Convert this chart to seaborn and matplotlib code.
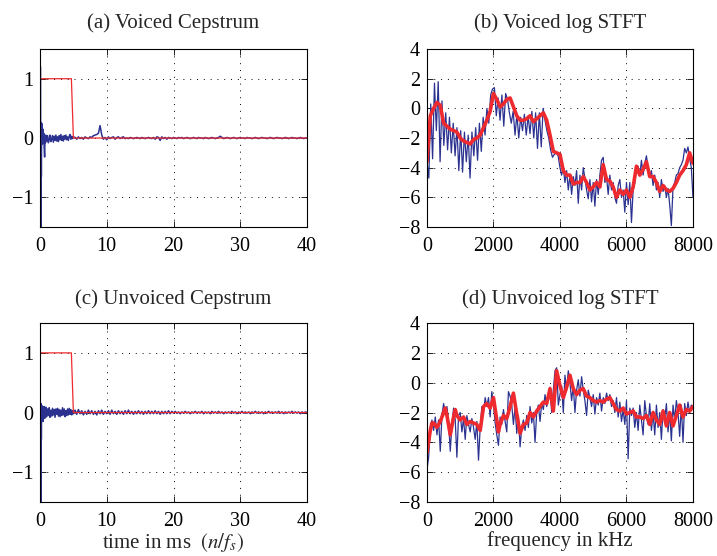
import numpy as np
import seaborn as sns
import matplotlib
matplotlib.use("Agg")
import matplotlib.pyplot as plt

sns.set_style("ticks")
plt.rcParams["font.family"] = ["Liberation Serif", "DejaVu Serif"]
plt.rcParams["mathtext.fontset"] = "stix"

BLUE = "#2b3290"
RED = "#ee2a2e"

# -------------------------------
# CEPSTRUM DATA (time in ms)
# -------------------------------
lifter_t = [0.0, 4.7, 5.0, 40.0]
lifter_v = [1.0, 1.0, 0.0, 0.0]

voiced_head_t = [0.08, 0.12, 0.16, 0.2, 0.25, 0.31, 0.38, 0.44, 0.5, 0.56, 0.62, 0.69, 0.75, 0.81, 0.88, 0.94]
voiced_head_v = [1.2, -2.0, 0.25, -0.65, 0.25, 0.12, -0.1, 0.15, -0.05, 0.08, -0.15, -0.32, 0.02, -0.08, 0.05, -0.04]
# 1.0 .. 5.0 ms
voiced_mid = [-0.05, 0.04, -0.08, -0.03, 0.05, -0.06, -0.02, 0.04, -0.07, 0.03,
              -0.04, 0.05, -0.05, 0.02, -0.06, 0.04, -0.03, 0.06, -0.04, 0.03,
              -0.05, 0.04, -0.02, 0.05, -0.03, 0.02, -0.04, 0.03, 0.06, -0.02,
              0.03, -0.01, 0.02]
# 5.25 .. 40 ms
voiced_tail = [0.01, -0.02, 0.02, -0.01, 0.01, -0.02, 0.02, 0.0, -0.01, 0.02, 0.01, 0.04,
               0.05, 0.06, 0.08, 0.21, 0.05, -0.02, 0.01, -0.03,
               0.02, -0.01, 0.01, 0.02, -0.02, 0.01, 0.02, -0.01, 0.01, 0.02, -0.01, 0.0,
               -0.01, 0.01, 0.0, -0.01, 0.0, 0.01, 0.0, -0.01, 0.01, 0.0, -0.01, 0.0, 0.01, 0.0, -0.01, 0.01,
               -0.02, 0.02, 0.01, -0.04, 0.02, -0.01, 0.01, -0.02, 0.01, 0.0, -0.01, 0.01,
               0.0, -0.01, 0.01, 0.0, 0.01, -0.01, 0.0, 0.01, 0.0, -0.01, 0.0, 0.01, 0.0, -0.01,
               0.01, 0.0, 0.0, -0.01, 0.01, 0.0, -0.01, 0.0, 0.01, 0.0, -0.01, 0.0, 0.01, 0.03,
               0.01, -0.01, 0.0, 0.01, 0.0, -0.01, 0.0, 0.01, 0.0, -0.01, 0.0, 0.01, 0.0, 0.0,
               -0.01, 0.01, 0.0, 0.0, -0.01, 0.0, 0.01, 0.0, -0.01, 0.0, 0.01, 0.0, 0.0, -0.01,
               0.0, 0.01, 0.0, -0.01, 0.0, 0.01, 0.0, 0.0, -0.01, 0.0, 0.01, 0.0, -0.01, 0.0,
               0.01, 0.0, 0.0, -0.01, 0.0, 0.01, 0.0, -0.01, 0.0, 0.0]

unvoiced_head_t = [0.08, 0.12, 0.16, 0.2, 0.25, 0.31, 0.38, 0.44, 0.5, 0.56, 0.62, 0.69, 0.75, 0.81, 0.88, 0.94]
unvoiced_head_v = [0.12, -2.0, 0.15, -0.45, 0.12, -0.12, 0.1, -0.15, 0.08, -0.05, 0.1, -0.1, 0.05, -0.08, 0.09, -0.06]
unvoiced_mid = [-0.07, 0.06, -0.05, 0.08, -0.08, 0.04, -0.06, 0.07, -0.04, 0.05,
                -0.08, 0.06, -0.03, 0.07, -0.06, 0.05, -0.07, 0.04, -0.05, 0.08,
                -0.04, 0.06, -0.07, 0.03, -0.05, 0.06, -0.04, 0.07, -0.03, 0.05,
                -0.04, 0.03, -0.02]
unvoiced_tail = [0.04, -0.03, 0.05, -0.02, 0.03, -0.04, 0.02, -0.03, 0.04, -0.02,
                 0.03, -0.03, 0.02, -0.04, 0.03, -0.02, 0.04, -0.03, 0.02, -0.02,
                 0.03, -0.03, 0.04, -0.02, 0.02, -0.03, 0.03, -0.02, 0.02, -0.03,
                 0.03, -0.02, 0.04, -0.02, 0.02, -0.03, 0.02, -0.02, 0.03, -0.02,
                 0.02, -0.03, 0.02, -0.02, 0.03, -0.02, 0.02, -0.02, 0.03, -0.02,
                 0.02, -0.03, 0.02, -0.02, 0.02, -0.02, 0.03, -0.02, 0.02, -0.01,
                 0.02, -0.01, 0.01, -0.02, 0.01, -0.01, 0.02, -0.01, 0.01, -0.02,
                 0.01, -0.01, 0.02, -0.01, 0.01, -0.01, 0.02, -0.02, 0.01, -0.01,
                 0.01, -0.02, 0.02, -0.01, 0.01, -0.01, 0.02, -0.01, 0.01, -0.02,
                 0.01, -0.01, 0.01, -0.01, 0.02, -0.01, 0.01, -0.02, 0.01, -0.01,
                 0.02, -0.01, 0.01, -0.01, 0.01, -0.02, 0.01, -0.01, 0.02, -0.01,
                 0.01, -0.01, 0.01, -0.02, 0.01, -0.01, 0.02, -0.01, 0.01, -0.01,
                 0.01, -0.01, 0.02, -0.01, 0.01, -0.02, 0.01, -0.01, 0.01, -0.01,
                 0.02, -0.01, 0.01, -0.01, 0.01, -0.02, 0.01, -0.01, 0.01, 0.0]

# -------------------------------
# LOG STFT DATA (frequency in Hz)
# -------------------------------
voiced_stft_lo = [-3.6, -4.7, 0.3, -3.4, 1.7, -1.5, 1.8, -3.6, 0.5, -2.5,
                  -0.3, -2.8, -0.6, -3.0, -1.0, -3.2, -1.3, -4.2, -1.5, -4.3,
                  -1.6, -3.6, -1.8, -4.7, -1.6, -3.2, -1.3, -3.5, -1.0, -2.9,
                  -0.6, -1.8, 0.0, -1.0, 0.9, 1.3, 1.4, -0.5, 0.7, -0.8,
                  0.9, -1.2, 1.0, 0.6, -0.3, -1.0, -0.2, -1.8, -0.4, -2.0,
                  -0.6, -1.5, -0.4, -1.8, -0.5, -1.7, -0.2, -2.0, -0.3, -2.7,
                  -0.3, -2.6, 0.0, -0.8, -1.5, -2.0, -2.8, -3.3, -3.1, -3.0,
                  -3.2, -4.0]  # 0 .. 4000 Hz
voiced_stft_hi = [-4.5, -4.0, -5.0, -4.2, -5.5, -4.5, -5.8, -4.6, -5.2, -4.2,
                  -6.4, -4.5, -5.5, -4.0, -4.7, -5.5, -6.1, -4.8, -6.3, -5.0,
                  -6.6, -4.8, -5.8, -4.5, -3.5, -3.3, -5.0, -4.6, -5.8, -4.5,
                  -5.5, -5.0, -6.0, -6.4, -5.2, -4.8, -6.0, -5.5, -7.0, -5.0,
                  -6.5, -5.0, -7.7, -5.5, -5.0, -4.0, -3.9, -4.5, -3.5, -4.5,
                  -3.7, -3.2, -4.0, -4.6, -4.2, -5.2, -4.5, -5.5, -5.0, -6.0,
                  -4.8, -5.6, -5.2, -6.0, -5.4, -6.5, -7.9, -5.3, -5.0, -4.5,
                  -4.4, -4.0, -3.8, -3.5, -2.7, -3.0, -2.6, -3.4, -4.0, -6.0]  # 4050 .. 8000 Hz
voiced_env = [-3.6, -0.5, 0.0, 0.4, 0.2, -1.0, -1.2, -1.4, -1.5, -1.6,
              -2.0, -2.2, -2.3, -2.4, -2.1, -2.0, -1.8, -1.3, -0.8, -0.2,
              1.0, 0.6, 0.1, 0.3, 0.6, 0.7, 0.1, -0.5, -0.8, -0.8,
              -0.7, -0.5, -0.9, -0.7, -0.5, -0.3, -0.8, -1.8, -2.9, -3.0,
              -3.1, -4.2, -4.5, -4.5, -5.1, -5.0, -5.0, -4.6, -5.0, -5.5,
              -5.3, -5.0, -5.3, -3.8, -4.8, -4.9, -5.3, -6.0, -5.5, -5.8,
              -5.5, -6.0, -5.3, -3.9, -4.5, -4.1, -3.6, -4.6, -4.6, -5.0,
              -5.6, -5.2, -5.5, -5.6, -5.4, -5.0, -4.5, -4.2, -3.8, -3.0,
              -3.7]  # 0 .. 8000 Hz, 100 Hz step

unvoiced_stft = [-5.8, -5.0, -3.0, -2.5, -3.2, -2.3, -3.5, -2.5, -4.6, -2.2,
                 -1.4, -2.0, -1.6, -2.6, -4.6, -2.8, -1.7, -2.5, -5.0, -2.2,
                 -2.0, -3.3, -2.4, -3.8, -2.2, -2.8, -3.3, -2.4, -3.0, -3.8,
                 -2.6, -5.2, -3.0, -1.6, -2.0, -1.0, -1.6, -1.0, -2.3, -0.6,
                 -1.5, -2.7, -3.5, -4.2, -2.3, -2.8, -1.8, -2.6, -3.3, -0.6,
                 -0.9, -1.5, -2.8, -1.6, -3.4, -2.2, -4.3, -3.0, -2.5, -3.2,
                 -2.2, -3.0, -1.6, -2.7, -2.0, -4.0, -2.0, -1.5, -2.6, -1.4,
                 -1.8, -0.8, -1.6, -1.0, -0.3, -2.0, -0.5, 0.8, 1.0, -1.5,
                 -0.8,
                 -0.2, -2.0, 0.5, -0.5, 0.8, 0.0, -1.2, -0.2, -2.0, -0.5,
                 0.2, -0.9, 0.4, -0.5, -1.2, -2.2, -0.5, -1.0, -1.6, -0.8,
                 -2.1, -1.0, -1.5, -0.7, -1.9, -1.0, -1.4, -0.7, -1.2, -0.8,
                 -1.6, -1.2, -2.0, -1.0, -2.3, -1.3, -2.6, -1.8, -2.8, -1.2,
                 -5.1, -1.7, -2.2, -1.7, -3.0, -2.0, -3.2, -1.5, -2.5, -3.5,
                 -1.2, -2.2, -2.8, -1.4, -3.2, -2.0, -3.5, -1.5, -3.0, -2.0,
                 -3.8, -1.8, -2.5, -1.4, -3.3, -2.0, -3.9, -1.5, -2.5, -1.2,
                 -2.0, -3.6, -1.5, -4.0, -1.4, -2.2, -1.3, -2.0, -1.5, -1.6]  # 50 Hz step
unvoiced_env_f = [0, 100, 150, 200, 300, 400, 500, 550, 600, 700, 800, 850, 900, 1000,
                  1100, 1200, 1300, 1400, 1500, 1600, 1700, 1800, 1900, 2000, 2100, 2150,
                  2200, 2300, 2400, 2500, 2600, 2700, 2800, 2900, 3000, 3100, 3200, 3300,
                  3400, 3500, 3600, 3700, 3800, 3900, 4000, 4100, 4200, 4300, 4400, 4500,
                  4600, 4700, 4800, 4900, 5000, 5100, 5200, 5300, 5400, 5500, 5600, 5700,
                  5800, 5900, 6000, 6100, 6200, 6300, 6400, 6500, 6600, 6700, 6800, 6900,
                  7000, 7100, 7200, 7300, 7400, 7500, 7600, 7700, 7800, 7900, 8000]
unvoiced_env_v = [-4.7, -3.2, -2.7, -2.7, -3.0, -2.6, -2.0, -1.7, -2.2, -3.5, -2.3, -1.8, -2.2, -2.5,
                  -2.3, -2.8, -2.6, -2.7, -2.8, -3.2, -1.6, -1.4, -1.7, -1.0, -2.5, -3.3,
                  -2.8, -2.2, -2.4, -1.6, -0.7, -2.1, -3.4, -2.8, -2.7, -2.0, -2.3, -1.9,
                  -1.6, -1.3, -1.4, -0.4, -1.9, 0.8, -0.2, -1.0, -0.3, 0.5, -0.4, -0.8,
                  -0.5, -0.4, -0.9, -1.0, -1.2, -1.3, -1.2, -1.3, -1.1, -1.0, -1.4, -1.8,
                  -1.9, -1.7, -2.1, -2.0, -1.9, -2.3, -2.3, -2.4, -2.2, -2.8, -2.0, -2.5,
                  -2.8, -1.9, -2.9, -2.0, -2.9, -2.2, -1.5, -2.3, -1.8, -1.9, -1.6]


def cep_series(head_t, head_v, mid, tail):
    t = np.concatenate([head_t, np.linspace(1.0, 5.0, len(mid)), np.linspace(5.25, 40.0, len(tail))])
    v = np.concatenate([head_v, mid, tail])
    return t, v


def draw(ax, x, y, color, lw):
    sns.lineplot(x=np.asarray(x, float), y=np.asarray(y, float), ax=ax, color=color,
                 linewidth=lw, estimator=None, sort=False, legend=False)


def style(ax, title, xlim, ylim, xticks, yticks, title_pad):
    ax.set_xlim(*xlim)
    ax.set_ylim(*ylim)
    ax.set_xticks(xticks)
    ax.set_yticks(yticks)
    ax.grid(True, color="black", linestyle=(0, (1, 6)), linewidth=0.7)
    ax.tick_params(direction="in", top=True, right=True, length=4, width=0.6,
                   labelsize=14.5, colors="black")
    ax.tick_params(axis="x", pad=7)
    ax.tick_params(axis="y", pad=5)
    for s in ax.spines.values():
        s.set_color("black")
        s.set_linewidth(0.8)
    ax.set_title(title, fontsize=15, pad=title_pad)


fig = plt.figure(figsize=(7.17, 5.56), dpi=100)
ax_a = fig.add_axes([0.0558, 0.5917, 0.3724, 0.3201])
ax_b = fig.add_axes([0.5955, 0.5917, 0.3710, 0.3201])
ax_c = fig.add_axes([0.0558, 0.0971, 0.3724, 0.3219])
ax_d = fig.add_axes([0.5955, 0.0971, 0.3710, 0.3219])

# (a) voiced cepstrum
t, v = cep_series(voiced_head_t, voiced_head_v, voiced_mid, voiced_tail)
draw(ax_a, t, v, BLUE, 1.1)
draw(ax_a, lifter_t, lifter_v, RED, 0.9)
style(ax_a, "(a) Voiced Cepstrum", (0, 40), (-1.5, 1.5), [0, 10, 20, 30, 40], [-1, 0, 1], 15)

# (b) voiced log STFT
f = np.concatenate([np.linspace(0, 4000, len(voiced_stft_lo)), np.linspace(4050, 8000, len(voiced_stft_hi))])
draw(ax_b, f, voiced_stft_lo + voiced_stft_hi, BLUE, 0.9)
draw(ax_b, np.linspace(0, 8000, len(voiced_env)), voiced_env, RED, 2.6)
style(ax_b, "(b) Voiced log STFT", (0, 8000), (-8, 4), [0, 2000, 4000, 6000, 8000], [-8, -6, -4, -2, 0, 2, 4], 15)

# (c) unvoiced cepstrum
t, v = cep_series(unvoiced_head_t, unvoiced_head_v, unvoiced_mid, unvoiced_tail)
draw(ax_c, t, v, BLUE, 1.1)
draw(ax_c, lifter_t, lifter_v, RED, 0.9)
style(ax_c, "(c) Unvoiced Cepstrum", (0, 40), (-1.5, 1.5), [0, 10, 20, 30, 40], [-1, 0, 1], 14)
ax_c.set_xlabel("time in ms  $(n/f_s)$", fontsize=15, labelpad=0)

# (d) unvoiced log STFT
draw(ax_d, np.linspace(0, 8000, len(unvoiced_stft)), unvoiced_stft, BLUE, 0.9)
draw(ax_d, unvoiced_env_f, unvoiced_env_v, RED, 2.6)
style(ax_d, "(d) Unvoiced log STFT", (0, 8000), (-8, 4), [0, 2000, 4000, 6000, 8000], [-8, -6, -4, -2, 0, 2, 4], 14)
ax_d.set_xlabel("frequency in kHz", fontsize=15, labelpad=0)

fig.savefig("out.png", dpi=100)
